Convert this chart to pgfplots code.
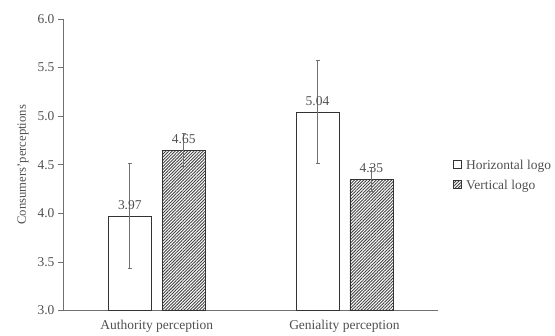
\documentclass[border=0pt]{standalone}
\usepackage{fontspec}
\setmainfont{Liberation Serif}
\usepackage{pgfplots}
\pgfplotsset{compat=1.18}
\usetikzlibrary{patterns.meta}
\definecolor{txt}{HTML}{505050}
\definecolor{ax}{HTML}{707070}
\definecolor{hatch}{HTML}{404040}
\tikzset{hatchfill/.style={pattern={Lines[angle=45,distance=2.2pt,line width=0.9pt]},pattern color=hatch}}
\begin{document}
\begin{tikzpicture}
\begin{axis}[
  scale only axis, width=376pt, height=292pt,
  ybar, bar width=43pt, ybar=11pt,
  xmin=-0.5, xmax=1.5, ymin=3, ymax=6,
  axis x line*=bottom, axis y line*=left,
  axis line style={ax, line width=0.8pt},
  xtick={0,1}, xticklabels={Authority perception, Geniality perception},
  x tick style={draw=none},
  extra x ticks={0.5,1.5}, extra x tick labels={},
  extra x tick style={major tick style={draw=ax, line width=0.8pt}, major tick length=5pt, tick align=outside},
  ytick={3,3.5,...,6},
  y tick style={ax, line width=0.8pt}, major tick length=5pt, tick align=outside,
  yticklabel style={/pgf/number format/.cd, fixed, fixed zerofill, precision=1, assume math mode=true},
  ticklabel style={font=\fontsize{13.5}{16}\selectfont, text=txt},
  xticklabel style={yshift=-1pt},
  ylabel={Consumers'perceptions},
  ylabel style={font=\fontsize{12.7}{15}\selectfont, text=txt, yshift=2pt},
  nodes near coords,
  nodes near coords style={font=\fontsize{13.5}{16}\selectfont, text=txt, yshift=3pt, /pgf/number format/.cd, fixed, fixed zerofill, precision=2, assume math mode=true},
  legend cell align=left,
  legend style={at={(1,0.462)}, anchor=west, xshift=15pt, draw=none, fill=none,
    font=\fontsize{13.5}{16}\selectfont, text=txt, row sep=9pt, inner sep=0pt,
    nodes={inner xsep=4pt, inner ysep=0pt}},
  legend image code/.code={\draw[#1, draw=black!80, line width=0.6pt] (0cm,-0.09cm) rectangle (0.28cm,0.19cm);},
  error bars/error bar style={ax, line width=0.8pt},
  error bars/error mark options={rotate=90, mark size=2pt, ax, line width=0.8pt},
]
\addplot[fill=white, draw=black!80, line width=0.7pt,
  error bars/.cd, y dir=both, y explicit]
  coordinates {(0,3.97) +- (0,0.54) (1,5.04) +- (0,0.53)};
\addplot[hatchfill, draw=black!80, line width=0.7pt,
  error bars/.cd, y dir=both, y explicit]
  coordinates {(0,4.65) +- (0,0.17) (1,4.35) +- (0,0.12)};
\legend{Horizontal logo, Vertical logo}
\end{axis}
\path[use as bounding box] ([xshift=-63pt,yshift=-25pt]current axis.south west) rectangle ([xshift=116pt,yshift=19pt]current axis.north east);
\end{tikzpicture}
\end{document}
